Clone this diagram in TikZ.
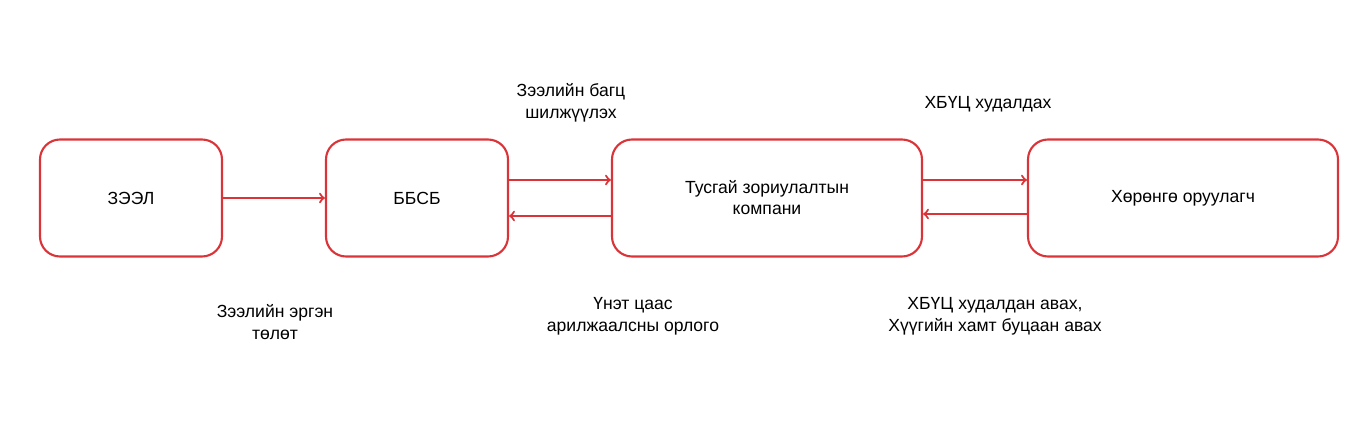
\documentclass[tikz,border=0pt]{standalone}
\usepackage{fontspec}
\setmainfont{Liberation Sans}
\usetikzlibrary{arrows,calc}
\definecolor{boxred}{RGB}{218,52,56}
\tikzset{
    entity/.style={draw=boxred, line width=1.2pt, rounded corners=0.4cm, minimum height=2.34cm, align=center, font=\fontsize{10}{12}\selectfont},
    flow/.style={draw=boxred, line width=1.2pt, -to},
    note/.style={align=center, font=\fontsize{10}{12.5}\selectfont}
}
\begin{document}
\begin{tikzpicture}
    \useasboundingbox (0, 0) rectangle (27.36, 8.48);
    \node [entity, minimum width=3.64cm] (loan) at (2.62, 4.52) {ЗЭЭЛ};
    \node [entity, minimum width=3.64cm] (bank) at (8.34, 4.52) {ББСБ};
    \node [entity, minimum width=6.2cm] (spv) at (15.34, 4.52) {Тусгай зориулалтын\\компани};
    \node [entity, minimum width=6.2cm] (inv) at (23.66, 4.52) {Хөрөнгө оруулагч};
    \draw [flow] (loan) -- (bank);
    \draw [flow] ($(bank.east) + (0, 0.36)$) -- ($(spv.west) + (0, 0.36)$);
    \draw [flow] ($(spv.west) + (0, -0.36)$) -- ($(bank.east) + (0, -0.36)$);
    \draw [flow] ($(spv.east) + (0, 0.36)$) -- ($(inv.west) + (0, 0.36)$);
    \draw [flow] ($(inv.west) + (0, -0.32)$) -- ($(spv.east) + (0, -0.32)$);
    \node [note] (pool) at (11.42, 6.42) {Зээлийн багц\\шилжүүлэх};
    \node [note] (sell) at (19.76, 6.40) {ХБҮЦ худалдах};
    \node [note] (repay) at (5.5, 2.04) {Зээлийн эргэн\\төлөт};
    \node [note] (proceeds) at (12.66, 2.16) {Үнэт цаас\\арилжаалсны орлого};
    \node [note] (buy) at (19.9, 2.16) {ХБҮЦ худалдан авах,\\Хүүгийн хамт буцаан авах};
\end{tikzpicture}
\end{document}
